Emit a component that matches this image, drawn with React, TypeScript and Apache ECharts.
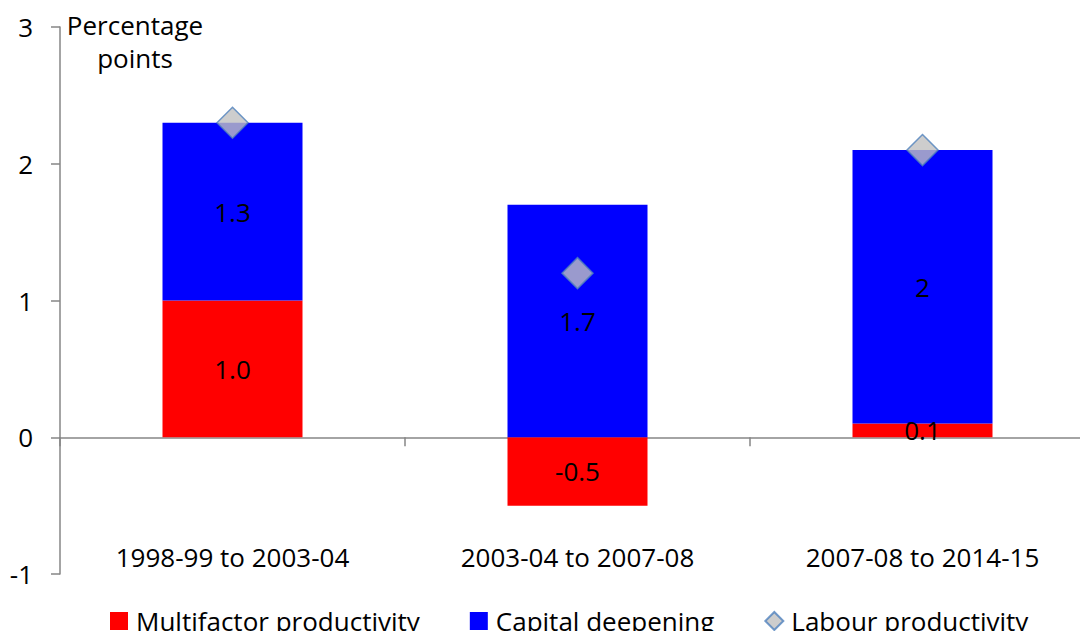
import React, { useEffect, useRef } from "react";
import * as echarts from "echarts";

// Contributions to labour productivity growth, by period
const periods = ["1998-99 to 2003-04", "2003-04 to 2007-08", "2007-08 to 2014-15"];
const multifactor = [1.0, -0.5, 0.1];
const capitalDeepening = [1.3, 1.7, 2];
const labourProductivity = [2.3, 1.2, 2.1];
const yTicks = { min: -1, max: 3, interval: 1 };

const FONT = "'Open Sans', 'Noto Sans', sans-serif";
const FONT_SIZE = 26;
const AXIS_GREY = "#868686";

export default function App() {
  const ref = useRef<HTMLDivElement>(null);

  useEffect(() => {
    if (!ref.current) return;
    const chart = echarts.init(ref.current, undefined, { renderer: "svg" });

    chart.setOption({
      animation: false,
      textStyle: { fontFamily: FONT },
      grid: {
        left: 60,
        top: 27,
        width: 1035,
        bottom: 65,
        containLabel: false,
        outerBoundsMode: "none",
      },
      graphic: [
        {
          type: "text",
          x: 135,
          y: 8,
          style: {
            text: "Percentage\npoints",
            fontFamily: FONT,
            fontSize: FONT_SIZE,
            lineHeight: 33,
            fill: "#000",
            align: "center",
          },
        },
      ],
      legend: {
        left: 105,
        top: 603,
        itemWidth: 18,
        itemHeight: 18,
        itemGap: 50,
        textStyle: { fontFamily: FONT, fontSize: FONT_SIZE, color: "#000", padding: [0, 0, 0, 3] },
        data: [
          { name: "Multifactor productivity", icon: "rect" },
          { name: "Capital deepening", icon: "rect" },
          { name: "Labour productivity", icon: "diamond" },
        ],
      },
      xAxis: [
        {
          // zero line with category boundary ticks
          type: "category",
          data: periods,
          axisLine: { onZero: true, lineStyle: { color: AXIS_GREY, width: 1.5 } },
          axisTick: { show: true, length: 9, lineStyle: { color: AXIS_GREY, width: 1.5 } },
          axisLabel: { show: false },
          splitLine: { show: false },
        },
        {
          // category names sit low, above the bottom of the plot
          type: "category",
          data: periods,
          position: "bottom",
          axisLine: { show: false, onZero: false },
          axisTick: { show: false },
          axisLabel: { margin: -30, fontFamily: FONT, fontSize: FONT_SIZE, color: "#000" },
          splitLine: { show: false },
        },
      ],
      yAxis: {
        type: "value",
        min: yTicks.min,
        max: yTicks.max,
        interval: yTicks.interval,
        axisLine: { show: true, lineStyle: { color: AXIS_GREY, width: 1.5 } },
        axisTick: { show: true, length: 9, lineStyle: { color: AXIS_GREY, width: 1.5 } },
        axisLabel: { margin: 27, fontFamily: FONT, fontSize: FONT_SIZE, color: "#000" },
        splitLine: { show: false },
      },
      series: [
        {
          name: "Multifactor productivity",
          type: "bar",
          stack: "total",
          barWidth: 140,
          data: multifactor,
          itemStyle: { color: "#ff0000" },
          label: {
            show: true,
            position: "inside",
            fontFamily: FONT,
            fontSize: FONT_SIZE,
            color: "#000",
            formatter: (p: any) => Number(p.value).toFixed(1),
          },
        },
        {
          name: "Capital deepening",
          type: "bar",
          stack: "total",
          barWidth: 140,
          data: capitalDeepening,
          itemStyle: { color: "#0000ff" },
          label: {
            show: true,
            position: "inside",
            fontFamily: FONT,
            fontSize: FONT_SIZE,
            color: "#000",
            formatter: (p: any) => String(p.value),
          },
        },
        {
          name: "Labour productivity",
          type: "scatter",
          data: labourProductivity,
          symbol: "diamond",
          symbolSize: 31,
          z: 5,
          itemStyle: { color: "#c0c0c0", borderColor: "#4f81bd", borderWidth: 1.5 },
        },
      ],
    });

    return () => chart.dispose();
  }, []);

  return <div ref={ref} style={{ width: 1088, height: 639, margin: -8 }} />;
}
